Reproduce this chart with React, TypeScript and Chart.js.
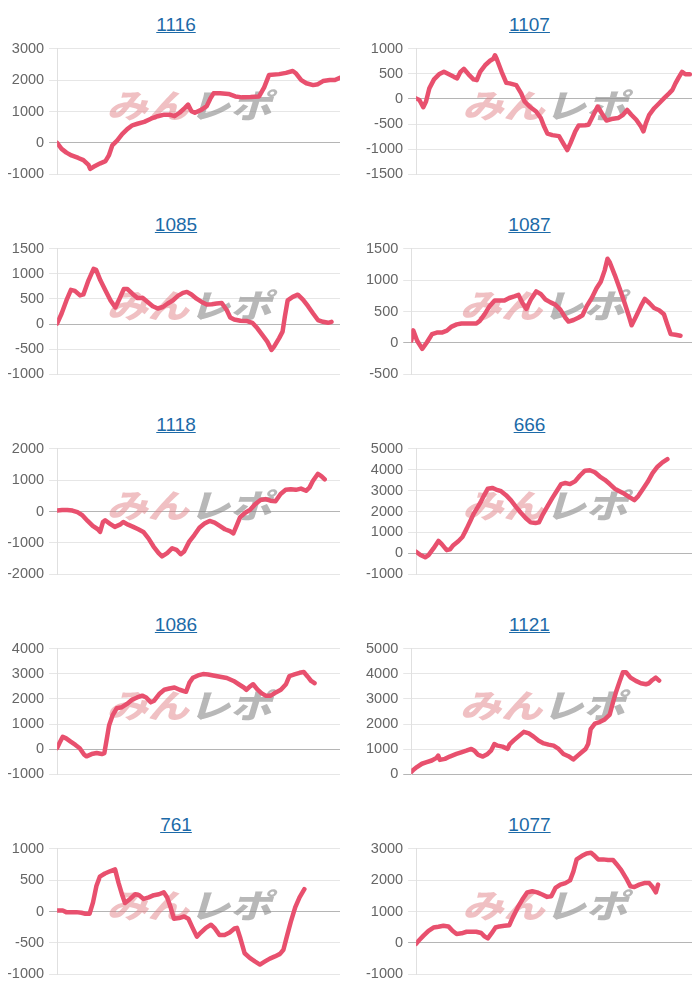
import React, { useEffect, useRef } from "react";
import { Chart, registerables } from "chart.js";

Chart.register(...registerables);

// ---- data (x = position along the day, 0..100; y = difference) ----
const x1116 = [0,1.6,3.3,5.1,7.5,9.3,11.1,11.7,12.9,15.3,17.1,18.3,19.5,21.2,23.0,24.8,26.6,28.4,30.8,33.2,35.6,37.9,39.7,41.5,43.3,45.1,46.3,47.5,48.7,51.1,52.9,54.1,55.3,57.6,60.6,63.0,65.4,68.4,71.4,73.2,74.9,78.5,80.9,83.3,84.5,86.3,88.1,90.5,92.2,94.0,96.4,98.2,99.8];
const y1116 = [0,-190,-310,-400,-480,-550,-700,-830,-760,-650,-580,-400,-80,70,280,440,560,610,670,770,850,900,900,850,960,1110,1220,1010,960,1060,1170,1400,1580,1580,1560,1480,1450,1460,1480,1770,2160,2190,2230,2290,2210,2000,1900,1840,1870,1970,2000,2000,2070];

const x1107 = [0,1.2,2.6,3.6,4.8,6.5,8.3,10.1,11.9,13.7,14.9,16.1,17.3,19.0,20.8,22.0,23.2,25.0,26.8,28.0,28.6,29.2,31.0,32.7,33.9,36.3,38.1,39.3,41.1,43.5,45.2,46.4,47.6,49.4,51.8,53.6,54.8,56.0,57.7,58.9,61.3,62.5,64.3,65.8,67.3,69.0,70.8,73.2,75.0,76.5,78.0,79.8,81.5,82.4,83.3,84.5,86.3,88.1,89.9,91.7,92.9,94.0,95.2,96.4,97.6,99.2];
const y1107 = [10,-20,-165,-50,210,390,490,540,490,440,410,540,600,490,390,375,540,670,760,800,870,800,540,320,310,275,110,-50,-150,-250,-380,-550,-690,-720,-740,-910,-1020,-875,-645,-530,-525,-515,-315,-150,-285,-430,-400,-380,-315,-220,-315,-415,-550,-645,-480,-315,-185,-85,15,110,180,310,430,540,490,490];

const x1085 = [0,1.6,3.3,4.9,6.3,8.1,9.3,11.1,12.9,13.8,15.3,17.1,18.9,20.6,22.1,23.6,24.8,26.6,28.4,30.2,32.0,33.8,35.6,37.4,39.1,40.9,42.7,44.5,45.9,47.5,49.3,51.1,52.9,54.7,56.4,58.2,60.0,61.2,62.6,64.8,67.2,69.0,70.8,72.6,74.3,75.8,76.7,78.5,79.7,80.5,81.5,83.3,85.1,86.9,88.7,90.5,92.2,94.0,95.8,97.0];
const y1085 = [10,210,470,680,660,570,590,870,1100,1080,870,670,470,330,510,700,700,605,520,525,440,355,310,340,410,470,560,620,640,590,505,440,390,395,410,420,275,130,90,65,60,25,-85,-220,-350,-515,-450,-280,-150,145,470,540,585,485,355,210,80,45,25,45];

const x1087 = [0,0.7,2.1,3.9,5.6,7.4,9.1,10.9,12.7,14.4,16.2,17.9,19.7,21.5,23.2,24.4,26.1,27.9,29.7,31.4,33.2,34.9,36.7,38.2,39.6,41.0,42.6,44.5,46.1,47.8,49.6,51.3,53.1,54.9,56.0,57.8,59.5,61.0,62.5,64.3,66.0,67.5,68.9,69.9,70.7,72.5,74.2,76.0,77.7,78.5,80.1,81.8,83.2,84.8,86.5,88.3,90.0,91.2,92.4,94.1,95.9];
const y1087 = [35,200,35,-95,10,140,165,165,195,260,295,310,310,310,310,350,455,585,675,675,675,715,740,765,635,540,690,820,780,690,645,610,530,400,340,365,400,440,585,715,870,975,1155,1340,1285,1080,870,635,400,280,425,585,700,635,555,520,455,295,140,130,115];

const x1118 = [0,1.8,3.6,5.4,7.2,9.0,10.8,12.6,14.4,15.2,16.2,17.0,18.6,20.4,22.2,23.4,25.1,26.9,28.7,30.5,32.3,34.1,35.9,37.1,38.9,40.7,42.2,43.7,44.9,46.7,48.5,50.3,52.1,53.9,55.7,57.5,59.3,61.1,62.3,63.5,64.7,66.5,68.3,70.1,71.9,73.7,75.4,77.2,79.0,80.8,82.6,84.4,86.2,88.0,89.2,90.4,92.2,93.4,94.6];
const y1118 = [30,50,50,30,-20,-125,-300,-460,-565,-650,-335,-280,-385,-490,-420,-335,-420,-490,-565,-650,-855,-1115,-1325,-1430,-1325,-1170,-1220,-1360,-1275,-960,-750,-520,-385,-300,-355,-460,-565,-625,-700,-440,-180,-40,60,240,365,395,345,325,555,690,710,690,730,660,760,970,1200,1130,1025];

const x666 = [0,1.6,3.3,4.5,6.3,8.1,9.3,11.1,12.3,13.5,15.3,16.8,18.3,19.7,20.9,22.4,23.6,24.8,26.0,27.6,29.0,30.8,32.6,34.4,36.2,37.9,39.7,41.5,43.3,44.5,45.7,47.5,49.3,51.1,52.6,54.1,55.8,57.6,59.4,61.2,63.0,64.8,66.6,68.4,70.2,72.0,73.7,75.5,77.3,79.1,80.5,82.1,83.9,85.7,87.5,89.3,91.1];
const y666 = [80,-80,-190,-80,235,595,440,155,190,390,580,780,1170,1560,1900,2220,2500,2810,3090,3125,3050,2970,2780,2530,2220,1950,1690,1480,1450,1480,1800,2220,2625,3000,3310,3360,3310,3440,3720,3950,3970,3875,3670,3515,3310,3090,2970,2845,2690,2545,2735,3050,3405,3830,4140,4345,4500];

const x1086 = [0,0.8,2.0,3.2,4.8,6.5,8.0,9.6,10.4,12.2,14.0,15.8,16.7,17.6,18.4,19.6,21.1,22.9,24.7,26.5,28.3,30.1,31.5,33.1,34.3,36.1,37.9,39.7,41.5,43.3,45.6,46.8,48.0,49.8,51.6,53.4,55.2,57.6,60.0,62.4,64.2,66.0,66.9,68.1,69.3,70.7,72.2,73.7,75.5,77.3,79.1,80.9,82.1,83.9,85.7,87.2,88.6,89.8,91.0];
const y1086 = [40,235,495,430,300,170,40,-220,-285,-195,-155,-195,-155,430,955,1345,1630,1670,1800,1970,2060,2130,2060,1865,1930,2195,2365,2415,2455,2365,2285,2650,2845,2935,2990,2975,2935,2885,2835,2715,2585,2455,2365,2495,2585,2390,2230,2130,2130,2260,2365,2585,2910,2975,3040,3070,2885,2715,2625];

const x1121 = [0,0.8,2.0,3.8,5.5,7.3,9.0,9.6,10.2,12.0,13.7,16.1,17.8,19.6,21.4,22.5,23.7,25.5,27.2,28.4,29.6,30.8,32.5,34.3,35.1,36.6,38.4,40.1,41.9,43.7,45.4,47.2,48.9,50.7,52.5,54.2,56.0,57.7,59.3,60.7,62.1,63.0,63.9,65.4,67.1,68.9,70.7,71.8,73.0,74.2,75.4,76.5,78.1,80.0,81.8,83.6,84.7,85.9,87.1,88.3];
const y1121 = [90,185,290,420,485,550,655,745,575,615,705,810,875,940,1010,940,785,705,810,940,1205,1140,1100,1010,1205,1360,1530,1690,1625,1490,1335,1230,1180,1140,1010,810,720,590,745,875,1010,1205,1795,2015,2080,2185,2380,2840,3300,3690,4060,4060,3850,3720,3625,3585,3625,3755,3850,3730];

const x761 = [0,2.0,3.2,5.0,6.8,8.6,10.0,11.5,12.7,13.9,15.1,16.9,18.7,20.5,21.7,23.1,24.0,25.8,27.6,29.0,30.6,32.4,34.2,36.0,37.7,38.9,40.1,41.3,43.1,44.9,46.4,47.9,49.4,50.8,52.6,54.4,55.6,57.4,59.2,61.0,62.7,63.6,64.8,66.3,68.1,69.9,71.7,73.5,75.2,77.0,78.8,80.0,81.2,82.6,84.2,85.7,87.4];
const y761 = [15,15,-10,-10,-10,-20,-35,-35,145,405,555,605,640,670,460,250,135,200,275,260,200,225,260,275,305,225,70,-115,-105,-80,-115,-260,-400,-335,-260,-210,-260,-375,-375,-335,-270,-260,-430,-665,-740,-795,-845,-795,-750,-715,-675,-610,-400,-165,70,225,355];

const x1077 = [0,1.0,2.7,4.5,6.3,8.1,9.9,11.7,13.2,14.7,16.5,18.3,20.0,21.8,23.6,24.8,26.0,27.2,28.8,30.2,32.0,33.8,35.0,36.8,38.5,40.3,42.1,43.9,45.7,47.5,49.0,50.5,52.3,54.1,55.8,57.0,58.2,60.0,61.8,63.4,64.8,66.0,67.8,69.6,71.4,72.6,74.3,76.1,77.7,79.1,80.9,82.7,84.5,85.7,86.9,87.7];
const y1077 = [-30,75,230,385,490,515,545,525,385,285,305,355,355,355,315,210,145,285,490,525,545,565,805,1120,1380,1610,1645,1610,1540,1465,1485,1750,1855,1905,1990,2270,2660,2765,2850,2870,2765,2660,2660,2640,2640,2515,2325,2065,1800,1780,1855,1905,1905,1780,1610,1855];

const titles = ["1116", "1107", "1085", "1087", "1118", "666", "1086", "1121", "761", "1077"];
const xSeries = [x1116, x1107, x1085, x1087, x1118, x666, x1086, x1121, x761, x1077];
const ySeries = [y1116, y1107, y1085, y1087, y1118, y666, y1086, y1121, y761, y1077];
const yMins = [-1000, -1500, -1000, -500, -2000, -1000, -1000, 0, -1000, -1000];
const yMaxs = [3000, 1000, 1500, 1500, 2000, 5000, 4000, 5000, 1000, 3000];
const ySteps = [1000, 500, 500, 500, 1000, 1000, 1000, 1000, 500, 1000];
const X_MAX = 100;

const LINE_COLOR = "#e8506e";
const FONT = '"Liberation Sans", Arial, sans-serif';

const watermark = {
  id: "watermark",
  beforeDatasetsDraw(chart: any) {
    const { ctx, chartArea: a } = chart;
    const cx = a.left + a.width * 0.48;
    const cy = a.top + a.height * 0.45;
    ctx.save();
    ctx.translate(cx, cy);
    ctx.transform(1.25, 0, -0.3, 1, 0, 0);
    ctx.font = '900 33px "Noto Sans CJK JP", sans-serif';
    ctx.textBaseline = "middle";
    const t1 = "みん";
    const t2 = "レポ";
    const w1 = ctx.measureText(t1).width;
    const w2 = ctx.measureText(t2).width;
    const x0 = -(w1 + w2) / 2;
    ctx.fillStyle = "rgba(226,130,135,0.5)";
    ctx.fillText(t1, x0, 0);
    ctx.fillStyle = "rgba(140,140,140,0.62)";
    ctx.fillText(t2, x0 + w1, 0);
    ctx.restore();
  },
};

function Panel({ idx }: { idx: number }) {
  const ref = useRef<HTMLCanvasElement | null>(null);
  useEffect(() => {
    if (!ref.current) return;
    const xs = xSeries[idx];
    const ys = ySeries[idx];
    const chart = new Chart(ref.current, {
      type: "line",
      data: {
        datasets: [
          {
            data: xs.map((x, i) => ({ x, y: ys[i] })),
            borderColor: LINE_COLOR,
            borderWidth: 4.5,
            pointRadius: 0,
            tension: 0,
            borderJoinStyle: "round",
            borderCapStyle: "round",
          },
        ],
      },
      options: {
        animation: false,
        responsive: true,
        maintainAspectRatio: false,
        plugins: { legend: { display: false }, tooltip: { enabled: false } },
        scales: {
          x: { type: "linear", min: 0, max: X_MAX, display: false },
          y: {
            min: yMins[idx],
            max: yMaxs[idx],
            ticks: {
              stepSize: ySteps[idx],
              padding: 5,
              color: "#666",
              font: { family: FONT, size: 14.5 },
              callback: (v: any) => String(v),
            },
            grid: {
              color: (c: any) => (c.tick && c.tick.value === 0 ? "#b5b5b5" : "#e6e6e6"),
              tickLength: 8,
            },
            border: { display: true, color: "#e0e0e0" },
          },
        },
      },
      plugins: [watermark],
    } as any);
    return () => chart.destroy();
  }, [idx]);

  return (
    <div style={{ height: 200 }}>
      <div
        style={{
          height: 27,
          lineHeight: "33px",
          paddingLeft: idx % 2 === 0 ? 10 : 6,
          textAlign: "center",
          fontFamily: FONT,
          fontSize: 19,
        }}
      >
        <a href="#" style={{ color: "#1c6aa8", textDecoration: "underline" }}>
          {titles[idx]}
        </a>
      </div>
      <div style={{ position: "relative", height: 153 }}>
        <canvas ref={ref} />
      </div>
    </div>
  );
}

export default function App() {
  return (
    <div
      style={{
        display: "grid",
        gridTemplateColumns: "338px 331px",
        columnGap: 21,
        marginLeft: -6,
        width: 690,
      }}
    >
      {titles.map((_, i) => (
        <Panel key={i} idx={i} />
      ))}
    </div>
  );
}
